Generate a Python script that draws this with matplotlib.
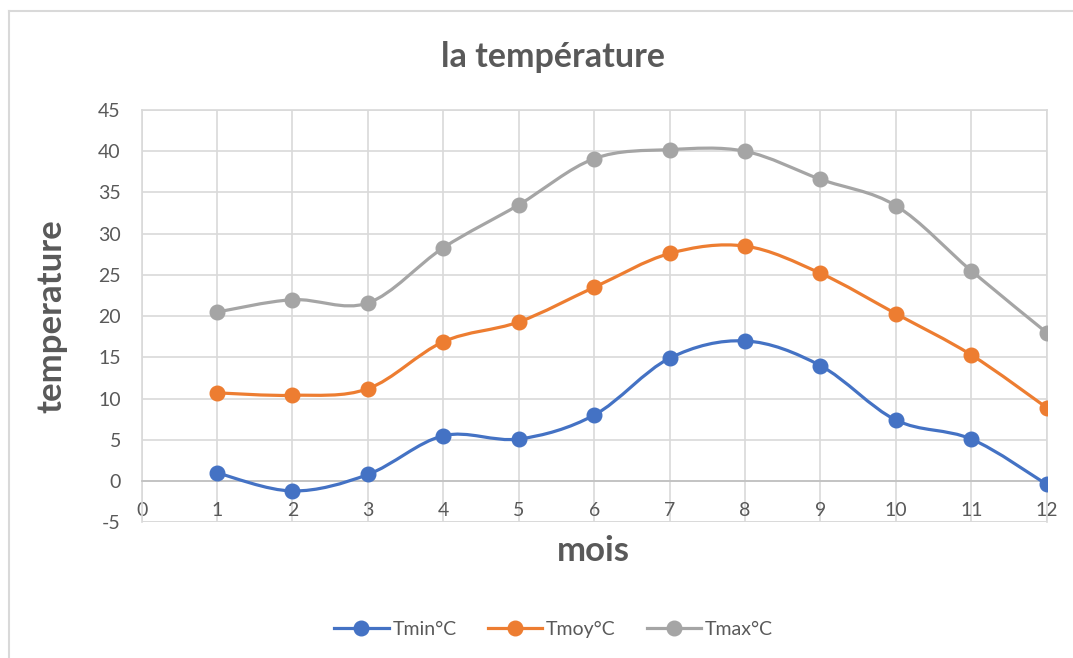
import numpy as np
import matplotlib.pyplot as plt
from matplotlib.path import Path
from matplotlib.patches import PathPatch
from matplotlib.lines import Line2D

plt.rcParams['font.family'] = ['Lato', 'DejaVu Sans']
plt.rcParams['axes.unicode_minus'] = False

mois = [1, 2, 3, 4, 5, 6, 7, 8, 9, 10, 11, 12]
tmin = [1.0, -1.2, 0.8, 5.5, 5.1, 8.0, 14.9, 17.0, 14.0, 7.4, 5.1, -0.4]
tmoy = [10.7, 10.4, 11.2, 16.9, 19.3, 23.5, 27.6, 28.5, 25.2, 20.3, 15.3, 8.9]
tmax = [20.5, 22.0, 21.6, 28.3, 33.5, 39.1, 40.2, 40.0, 36.6, 33.4, 25.5, 18.0]

labels = ['Tmin°C', 'Tmoy°C', 'Tmax°C']
colors = ['#4472C4', '#ED7D31', '#A5A5A5']
txt = '#595959'


def smooth_path(x, y):
    # cardinal spline through the points, as Bezier segments
    p = np.column_stack([x, y]).astype(float)
    verts = [p[0]]
    codes = [Path.MOVETO]
    n = len(p)
    for i in range(n - 1):
        p0 = p[i - 1] if i > 0 else p[i]
        p3 = p[i + 2] if i + 2 < n else p[i + 1]
        c1 = p[i] + (p[i + 1] - p0) / 6
        c2 = p[i + 1] - (p3 - p[i]) / 6
        verts += [c1, c2, p[i + 1]]
        codes += [Path.CURVE4] * 3
    return Path(verts, codes)


fig = plt.figure(figsize=(10.73, 6.58), dpi=100)
ax = fig.add_axes([0.132, 0.2062, 0.8435, 0.6266])

for y, c, lab in zip([tmin, tmoy, tmax], colors, labels):
    ax.add_patch(PathPatch(smooth_path(mois, y), facecolor='none',
                           edgecolor=c, lw=2.3, capstyle='round', zorder=3))
    ax.plot(mois, y, 'o', color=c, ms=10.5, zorder=4)

ax.set_xlim(0, 12)
ax.set_ylim(-5, 45)
ax.set_xticks(range(0, 13))
ax.set_yticks(range(-5, 50, 5))
ax.grid(True, color='#d9d9d9', lw=1.2)
ax.set_axisbelow(True)
for s in ['top', 'right', 'left']:
    ax.spines[s].set_color('#d9d9d9')
    ax.spines[s].set_linewidth(1.2)
ax.spines['bottom'].set_position(('data', 0))
ax.spines['bottom'].set_color('#bfbfbf')
ax.spines['bottom'].set_linewidth(1.2)
ax.axhline(-5, color='#d9d9d9', lw=1.2, zorder=0)
ax.tick_params(length=0, labelsize=14, labelcolor=txt)
ax.tick_params(axis='x', pad=15)
ax.tick_params(axis='y', pad=15)

fig.text(0.5155, 0.913, 'la température', ha='center', va='center',
         fontsize=24.5, fontweight='bold', color=txt)
fig.text(0.553, 0.163, 'mois', ha='center', va='center',
         fontsize=25, fontweight='bold', color=txt)
fig.text(0.048, 0.52, 'temperature', ha='center', va='center', rotation=90,
         fontsize=25, fontweight='bold', color=txt)

handles = [Line2D([], [], color=c, lw=2.3, marker='o', ms=10.5) for c in colors]
fig.legend(handles, labels, loc='center', bbox_to_anchor=(0.516, 0.044),
           ncol=3, frameon=False, fontsize=14, labelcolor=txt,
           handlelength=2.8, handletextpad=0.2, columnspacing=1.6)

# chart frame
fig.add_artist(Line2D([0.008, 0.008], [0, 0.984], transform=fig.transFigure,
                      color='#d9d9d9', lw=1.5))
fig.add_artist(Line2D([0.008, 1], [0.984, 0.984], transform=fig.transFigure,
                      color='#d9d9d9', lw=1.5))

fig.savefig('out.png', dpi=100)
